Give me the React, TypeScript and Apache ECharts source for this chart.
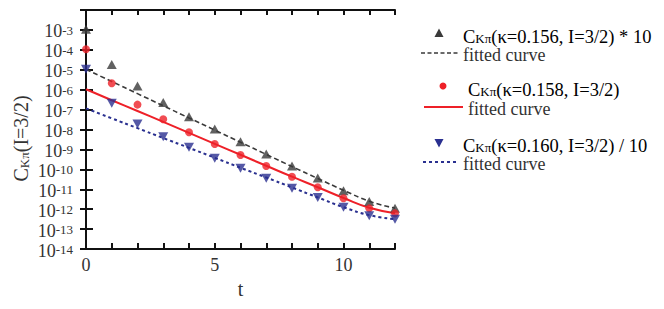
import React, { useEffect, useRef } from "react";
import * as echarts from "echarts";

const tValues = [0, 1, 2, 3, 4, 5, 6, 7, 8, 9, 10, 11, 12];
// C_Kpi(kappa=0.156, I=3/2) * 10
const k156Data = [1.07e-3, 1.86e-5, 1.51e-6, 2.24e-7, 4.37e-8, 1.07e-8, 2.45e-9, 5.89e-10, 1.48e-10, 3.72e-11, 8.51e-12, 2.4e-12, 1.1e-12];
const k156Fit = [1.05e-5, 2.57e-6, 6.31e-7, 1.55e-7, 3.8e-8, 9.33e-9, 2.29e-9, 5.62e-10, 1.38e-10, 3.47e-11, 8.91e-12, 2.51e-12, 1.12e-12];
// C_Kpi(kappa=0.158, I=3/2)
const k158Data = [1.07e-4, 2.09e-6, 1.78e-7, 3.24e-8, 7.24e-9, 1.86e-9, 5.25e-10, 1.48e-10, 4.27e-11, 1.26e-11, 3.55e-12, 1.1e-12, 6.17e-13];
const k158Fit = [1.05e-6, 2.95e-7, 8.51e-8, 2.4e-8, 6.76e-9, 1.91e-9, 5.37e-10, 1.51e-10, 4.27e-11, 1.26e-11, 3.63e-12, 1.17e-12, 6.31e-13];
// C_Kpi(kappa=0.160, I=3/2) / 10
const k160Data = [1.05e-5, 2.09e-7, 1.91e-8, 4.37e-9, 1.29e-9, 3.63e-10, 1.12e-10, 3.55e-11, 1.12e-11, 3.8e-12, 1.26e-12, 4.68e-13, 3.09e-13];
const k160Fit = [1.15e-7, 3.63e-8, 1.17e-8, 3.72e-9, 1.2e-9, 3.8e-10, 1.2e-10, 3.89e-11, 1.23e-11, 3.89e-12, 1.26e-12, 5.01e-13, 3.16e-13];

const xTickLabels = [0, 5, 10];
const yLabelExponents = [-14, -13, -12, -11, -10, -9, -8, -7, -6, -5, -4, -3];
const legendLabels = [
  ["C", "Kπ", "(κ=0.156, I=3/2) * 10"],
  ["C", "Kπ", "(κ=0.158, I=3/2)"],
  ["C", "Kπ", "(κ=0.160, I=3/2) / 10"],
];
const fitLabel = "fitted curve";

const FONT = "Liberation Serif";
const TXT = "#333";
const BLACK = "#3a3a3a";
const RED = "#ee2028";
const BLUE = "#2a3090";

const pairs = (ys: number[]) => tValues.map((t, i) => [t, ys[i]]);

export default function App() {
  const ref = useRef<HTMLDivElement>(null);
  useEffect(() => {
    if (!ref.current) return;
    const chart = echarts.init(ref.current, undefined, { renderer: "svg" });
    const legendRich = {
      c: { fontSize: 18.5, fontFamily: FONT, color: TXT, lineHeight: 15, padding: [0, 0, 1, 0] },
      k: { fontSize: 13, fontFamily: FONT, color: TXT, lineHeight: 11, verticalAlign: "bottom" },
    };
    const nameRich = {
      c: { fontSize: 20, fontFamily: FONT, color: TXT, lineHeight: 18, padding: [0, 0, 3, 0] },
      k: { fontSize: 13, fontFamily: FONT, color: TXT, lineHeight: 12, verticalAlign: "bottom" },
    };
    const supRich = {
      b: { fontSize: 18, fontFamily: FONT, color: TXT, lineHeight: 12, padding: [3, 0, 0, 0] },
      s: { fontSize: 13, fontFamily: FONT, color: TXT, lineHeight: 9, verticalAlign: "top" },
    };
    const expLabel = (v: number, keep: (e: number) => boolean) => {
      const e = Math.round(Math.log10(v));
      return yLabelExponents.includes(e) && keep(e) ? `{b|10}{s|${e}}` : "";
    };
    const legendText = (l: string[]) => `{c|${l[0]}}{k|${l[1]}}{c|${l[2]}}`;
    const fitText = (x: number, y: number) => ({
      type: "text",
      left: x,
      top: y - 9,
      style: { text: fitLabel, fontSize: 18, fontFamily: FONT, fill: TXT },
    });
    const axisCommon = {
      axisLine: { show: true, lineStyle: { color: "#111", width: 2 } },
      splitLine: { show: false },
    };
    const logRange = { type: "log", logBase: 10, min: 1e-14, max: 1e-2, interval: 1, splitNumber: 12 };
    chart.setOption({
      animation: false,
      textStyle: { fontFamily: FONT },
      grid: { left: 86, top: 10, width: 309, height: 239, containLabel: false },
      xAxis: [
        {
          type: "value",
          min: 0,
          max: 12,
          interval: 1,
          ...axisCommon,
          axisTick: { show: true, inside: true, length: 6, lineStyle: { color: "#111", width: 2 } },
          axisLabel: {
            formatter: (v: number) => (xTickLabels.includes(v) ? String(v) : ""),
            fontSize: 18,
            fontFamily: FONT,
            color: TXT,
            margin: 7,
          },
          name: "t",
          nameLocation: "middle",
          nameGap: 28,
          nameTextStyle: { fontSize: 20, fontFamily: FONT, color: TXT },
        },
        {
          type: "value",
          position: "top",
          min: 0,
          max: 12,
          interval: 1,
          ...axisCommon,
          axisTick: { show: true, inside: true, length: 5, lineStyle: { color: "#111", width: 2 } },
          axisLabel: { show: false },
        },
      ],
      yAxis: [
        {
          ...logRange,
          ...axisCommon,
          axisTick: { show: true, inside: true, length: 7, lineStyle: { color: "#111", width: 2 } },
          axisLabel: {
            formatter: (v: number) => expLabel(v, (e) => e !== -14),
            showMinLabel: false,
            showMaxLabel: false,
            margin: 13,
            rich: supRich,
          },
          name: "{c|C}{k|Kπ}{c|(I=3/2)}",
          nameLocation: "middle",
          nameGap: 44,
          nameTextStyle: { rich: nameRich, fontFamily: FONT, padding: [0, 18, 0, 0] },
        },
        {
          ...logRange,
          position: "right",
          ...axisCommon,
          axisTick: { show: true, inside: true, length: 6, lineStyle: { color: "#111", width: 2 } },
          axisLabel: { show: false },
        },
        {
          ...logRange,
          position: "left",
          offset: 0,
          axisLine: { show: false },
          axisTick: { show: false },
          splitLine: { show: false },
          axisLabel: {
            formatter: (v: number) => expLabel(v, (e) => e === -14),
            showMinLabel: true,
            showMaxLabel: false,
            margin: 13,
            rich: supRich,
          },
        },
      ],
      series: [
        {
          name: "k156 fit",
          type: "line",
          data: pairs(k156Fit),
          smooth: true,
          symbol: "none",
          lineStyle: { color: BLACK, width: 1.6, type: [5, 3] },
          z: 2,
        },
        {
          name: "k158 fit",
          type: "line",
          data: pairs(k158Fit),
          smooth: true,
          symbol: "none",
          lineStyle: { color: RED, width: 2 },
          z: 2,
        },
        {
          name: "k160 fit",
          type: "line",
          data: pairs(k160Fit),
          smooth: true,
          symbol: "none",
          lineStyle: { color: BLUE, width: 2, type: [3, 3] },
          z: 2,
        },
        {
          name: "k156",
          type: "scatter",
          data: pairs(k156Data),
          symbol: "triangle",
          symbolSize: [10, 9],
          itemStyle: { color: BLACK },
          z: 3,
        },
        {
          name: "k158",
          type: "scatter",
          data: pairs(k158Data),
          symbol: "circle",
          symbolSize: 8,
          itemStyle: { color: RED },
          z: 3,
        },
        {
          name: "k160",
          type: "scatter",
          data: pairs(k160Data),
          symbol: "triangle",
          symbolRotate: 180,
          symbolSize: [10, 9],
          itemStyle: { color: BLUE },
          z: 3,
        },
      ],
      graphic: [
        { type: "polygon", shape: { points: [[439, 28.5], [434.5, 37], [443.5, 37]] }, style: { fill: BLACK } },
        {
          type: "text",
          left: 463,
          top: 27,
          style: { text: legendText(legendLabels[0]), rich: legendRich, fontFamily: FONT },
        },
        { type: "line", shape: { x1: 421, y1: 53, x2: 460, y2: 53 }, style: { stroke: BLACK, lineWidth: 1.6, lineDash: [4, 2.5] } },
        fitText(463, 55),
        { type: "circle", shape: { cx: 443, cy: 86, r: 3.5 }, style: { fill: RED } },
        {
          type: "text",
          left: 468,
          top: 80,
          style: { text: legendText(legendLabels[1]), rich: legendRich, fontFamily: FONT },
        },
        { type: "line", shape: { x1: 424, y1: 107, x2: 463, y2: 107 }, style: { stroke: RED, lineWidth: 2 } },
        fitText(468, 109),
        { type: "polygon", shape: { points: [[434.5, 139], [443.5, 139], [439, 147.5]] }, style: { fill: BLUE } },
        {
          type: "text",
          left: 463,
          top: 136,
          style: { text: legendText(legendLabels[2]), rich: legendRich, fontFamily: FONT },
        },
        { type: "line", shape: { x1: 423, y1: 162, x2: 459, y2: 162 }, style: { stroke: BLUE, lineWidth: 2, lineDash: [3, 3] } },
        fitText(463, 164),
      ],
    });
    return () => chart.dispose();
  }, []);
  return (
    <div
      ref={ref}
      style={{ position: "fixed", left: 0, top: 0, width: 664, height: 309, background: "#fff" }}
    />
  );
}
